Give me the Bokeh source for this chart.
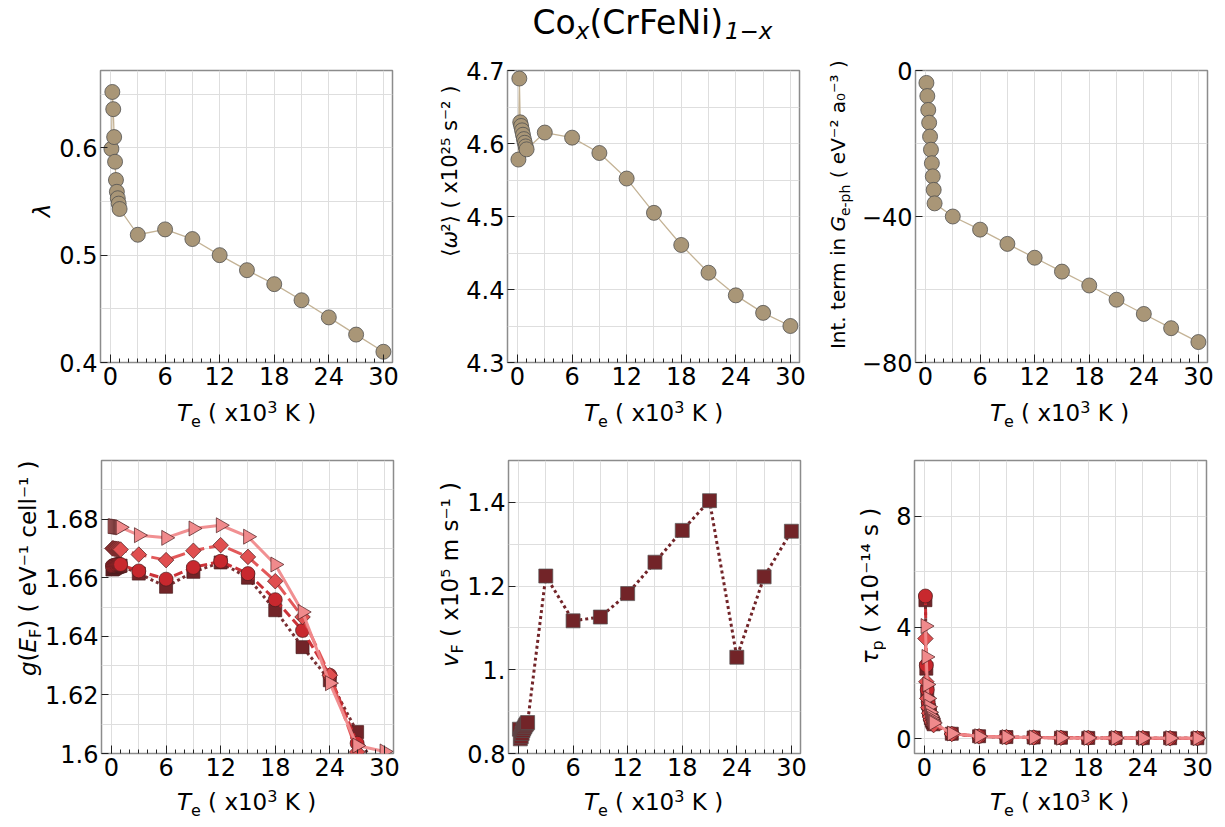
import math
from bokeh.plotting import figure
from bokeh.layouts import column, row
from bokeh.models import Range1d, FixedTicker, Label
from bokeh.embed import file_html
from bokeh.resources import INLINE

# ---------------- data ----------------
T = [0.1, 0.2, 0.3, 0.4, 0.5, 0.6, 0.7, 0.8, 0.9, 1.0,
     3, 6, 9, 12, 15, 18, 21, 24, 27, 30]

lam = [0.599, 0.652, 0.636, 0.610, 0.587, 0.570, 0.559, 0.553, 0.548, 0.543,
       0.519, 0.524, 0.515, 0.500, 0.486, 0.473, 0.458, 0.442, 0.426, 0.410]

omega2 = [4.578, 4.689, 4.629, 4.624, 4.618, 4.612, 4.606, 4.601, 4.596, 4.592,
          4.615, 4.608, 4.587, 4.552, 4.505, 4.461, 4.423, 4.392, 4.368, 4.350]

int_term = [-3.4, -7.0, -10.8, -14.3, -18.1, -21.7, -25.4, -29.0, -32.7, -36.4,
            -40.0, -43.6, -47.5, -51.3, -55.1, -58.9, -62.8, -66.7, -70.6, -74.4]

g_sq = [1.6628, 1.6630, 1.6632, 1.6634, 1.6636, 1.6637, 1.6638, 1.6639, 1.6640, 1.6641,
        1.6614, 1.6569, 1.6620, 1.6652, 1.6600, 1.6489, 1.6363, 1.6250, 1.6073, 1.5880]
g_ci = [1.6640, 1.6641, 1.6642, 1.6643, 1.6644, 1.6644, 1.6645, 1.6645, 1.6645, 1.6645,
        1.6623, 1.6595, 1.6635, 1.6656, 1.6614, 1.6525, 1.6420, 1.6267, 1.6035, 1.5850]
g_di = [1.6700, 1.6700, 1.6699, 1.6699, 1.6698, 1.6698, 1.6697, 1.6697, 1.6696, 1.6696,
        1.6679, 1.6660, 1.6692, 1.6711, 1.6671, 1.6588, 1.6466, 1.6267, 1.6005, 1.5830]
g_tr = [1.6776, 1.6776, 1.6775, 1.6775, 1.6774, 1.6774, 1.6773, 1.6773, 1.6772, 1.6772,
        1.6745, 1.6736, 1.6768, 1.6779, 1.6740, 1.6645, 1.6483, 1.6240, 1.6027, 1.6007]

vF = [0.858, 0.835, 0.840, 0.848, 0.855, 0.860, 0.864, 0.868, 0.871, 0.874,
      1.224, 1.117, 1.126, 1.182, 1.257, 1.333, 1.404, 1.030, 1.222, 1.331]

tau_sq = [4.98, 2.52, 1.70, 1.28, 1.03, 0.86, 0.74, 0.65, 0.58, 0.52,
          0.18, 0.09, 0.06, 0.045, 0.036, 0.030, 0.026, 0.023, 0.020, 0.018]
tau_ci = [5.13, 2.64, 1.76, 1.32, 1.06, 0.89, 0.76, 0.67, 0.60, 0.54,
          0.18, 0.09, 0.06, 0.045, 0.036, 0.030, 0.026, 0.023, 0.020, 0.018]
tau_di = [3.60, 2.05, 1.45, 1.12, 0.92, 0.78, 0.68, 0.60, 0.54, 0.49,
          0.17, 0.085, 0.057, 0.043, 0.034, 0.029, 0.025, 0.022, 0.019, 0.017]
tau_tr = [4.05, 2.94, 1.95, 1.45, 1.15, 0.95, 0.81, 0.71, 0.63, 0.57,
          0.19, 0.09, 0.06, 0.046, 0.037, 0.031, 0.027, 0.023, 0.021, 0.019]

x_major = [0, 6, 12, 18, 24, 30]

# ---------------- style ----------------
FONT = "DejaVu Sans"
TICK_FS = "24px"
LAB = 23
SUB = 16
MID = 0.35   # middle of text box above baseline, in em

TAN_FILL = "#a99677"
TAN_LINE = "#c4b396"
EDGE = "#505050"
C_SQ = "#722428"
C_CI = "#c8282e"
C_DI = "#e04f50"
C_TR = "#f08a8c"

W = {' ': 651, '(': 799, ')': 799, '.': 651, 'x': 1212, 'K': 1343, 's': 1067,
     'm': 1995, 'e': 1260, 'V': 1401, 'c': 1126, 'l': 569, 'a': 1255, 'i': 569,
     'n': 1298, 't': 803, 'r': 842, 'I': 604, 'G': 1577, 'E': 1294, 'F': 1177,
     'g': 1300, '\u2212': 1716, '-': 739, 'p': 1300, 'h': 1298, 'T': 1251,
     'C': 1430, 'o': 1253, 'N': 1532, '\u03bb': 1212, '\u03c9': 1636,
     '\u03c4': 1221, 'v': 1212, '\u27e8': 799, '\u27e9': 799}
for d in "0123456789":
    W[d] = 1303


def tw(s, size):
    return sum(W.get(c, 1250) for c in s) / 2048.0 * size


def rich(p, pieces, bx, by):
    """Horizontal line of text from pieces (text, px size, italic, baseline shift, advances).
    bx = centre of the line, by = baseline (screen units of the text figure)."""
    total = sum(tw(t, s) for t, s, it, dy, adv in pieces if adv)
    pos = -total / 2.0
    for t, size, it, dy, adv in pieces:
        stripped = t.lstrip(" ")
        lead = tw(t[:len(t) - len(stripped)], size)
        p.add_layout(Label(x=bx + pos + lead, y=by + dy + MID * size,
                           x_units="screen", y_units="screen",
                           text=stripped.rstrip(" "), text_font=FONT,
                           text_font_size="%dpx" % size,
                           text_font_style="italic" if it else "normal",
                           text_color="black", text_align="left",
                           text_baseline="middle"))
        if adv:
            pos += tw(t, size)


def rl(p, text, bx, y, size, italic=False, align="left", dy=0):
    """One rotated (bottom-to-top) text piece; bx = baseline x, y = position along the line."""
    p.add_layout(Label(x=bx - (dy + MID * size), y=y, x_units="screen", y_units="screen",
                       text=text, text_font=FONT, text_font_size="%dpx" % size,
                       text_font_style="italic" if italic else "normal",
                       text_color="black", angle=math.pi / 2,
                       text_align=align, text_baseline="middle"))


def text_fig(w, h):
    f = figure(width=w, height=h, min_border=0, x_axis_type=None, y_axis_type=None,
               x_range=Range1d(0, w), y_range=Range1d(0, h),
               output_backend="svg", toolbar_location=None,
               outline_line_color=None, background_fill_color="white",
               border_fill_color="white")
    f.grid.visible = False
    return f


def make_fig(yr, yticks, ygrid, left, right, top, bottom, fh, overrides=None):
    p = figure(frame_width=292, frame_height=fh,
               min_border_left=left, min_border_right=right,
               min_border_top=top, min_border_bottom=bottom,
               x_range=Range1d(-1.1, 31), y_range=Range1d(*yr),
               output_backend="svg", toolbar_location=None,
               background_fill_color="white", border_fill_color="white",
               outline_line_color="#8c8c8c", outline_line_width=1.5)
    p.xaxis.ticker = FixedTicker(ticks=x_major, minor_ticks=list(range(0, 31)))
    p.yaxis.ticker = FixedTicker(ticks=yticks)
    for ax in (p.xaxis, p.yaxis):
        ax.axis_line_color = None
        ax.major_label_text_font = FONT
        ax.major_label_text_font_size = TICK_FS
        ax.major_label_text_color = "black"
        ax.major_tick_line_color = "#222222"
        ax.minor_tick_line_color = "#222222"
        ax.major_tick_out = 0
        ax.minor_tick_out = 0
    p.xaxis.major_tick_in = 8
    p.xaxis.minor_tick_in = 4
    p.xaxis.major_label_standoff = 4
    p.yaxis.major_tick_in = 7
    p.yaxis.minor_tick_line_color = None
    p.yaxis.major_label_standoff = 3
    if overrides:
        p.yaxis.major_label_overrides = overrides
    p.xgrid.ticker = FixedTicker(ticks=list(range(0, 31, 3)))
    p.ygrid.ticker = FixedTicker(ticks=ygrid)
    p.xgrid.grid_line_color = "#dedede"
    p.ygrid.grid_line_color = "#dedede"
    return p


def tan_series(p, y):
    p.line(T, y, line_color=TAN_LINE, line_width=1.3)
    p.scatter(T, y, marker="circle", size=15, fill_color=TAN_FILL,
              line_color=EDGE, line_width=0.8)


def red_series(p, ys):
    specs = [(ys[0], C_SQ, "square", 13, 0.0, "3 3"),
             (ys[1], C_CI, "circle", 14, 0.0, "9 4"),
             (ys[2], C_DI, "square", 11, math.pi / 4, "15 5"),
             (ys[3], C_TR, "triangle", 15, -math.pi / 2, "solid")]
    for y, col, mk, sz, ang, dash in specs:
        p.line(T, y, line_color=col, line_width=3, line_dash=dash, line_alpha=0.95)
        p.scatter(T, y, marker=mk, size=sz, angle=ang, fill_color=col,
                  line_color="#4a1c1e", line_width=0.7)


XLAB = [("T", LAB, True, 0, True), ("e", SUB, False, -5, True),
        (" ( x10", LAB, False, 0, True), ("3", SUB, False, 9, True),
        (" K )", LAB, False, 0, True)]

# ---------------- top block (page y 0 .. 394) ----------------
PANEL_H = 22 + 292 + 32
COL_H = 48 + PANEL_H

p1 = make_fig((0.4, 0.672), [0.4, 0.5, 0.6], [0.4, 0.45, 0.5, 0.55, 0.6, 0.65],
              44, 13, 22, 32, 292)
tan_series(p1, lam)
yl1 = text_fig(56, COL_H)
rl(yl1, "\u03bb", 50, 184, LAB, italic=True, align="center")

p2 = make_fig((4.3, 4.7), [4.3, 4.4, 4.5, 4.6, 4.7],
              [4.3, 4.35, 4.4, 4.45, 4.5, 4.55, 4.6, 4.65, 4.7],
              44, 11, 22, 32, 292)
tan_series(p2, omega2)
yl2 = text_fig(58, COL_H)
P = 146
rl(yl2, "\u27e8", 52, P, 21, align="right")
rl(yl2, "\u03c9", 52, P, 21, italic=True)
rl(yl2, "\u00b2\u27e9 ( x10\u00b2\u2075 s\u207b\u00b2 )", 52, P + tw("\u03c9", 21), 21)

p3 = make_fig((-80, 0), [-80, -40, 0], [-80, -60, -40, -20, 0],
              55, 18, 22, 32, 292, overrides={-80: "\u221280", -40: "\u221240", 0: "0"})
tan_series(p3, int_term)
yl3 = text_fig(48, COL_H)
P = 163
rl(yl3, "Int. term in", 34, P - tw(" ", 20), 20, align="right")
rl(yl3, "G", 34, P, 20, italic=True)
rl(yl3, "e-ph", 34, P + tw("G", 20), 14, dy=-5)
rl(yl3, "( eV\u207b\u00b2 a\u2080\u207b\u00b3 )", 34,
   P + tw("G", 20) + tw("e-ph", 14) + tw(" ", 20), 20)

# title lives above the middle panel (page x 463 .. 810)
title_f = text_fig(347, 48)
rich(title_f, [("Co", 33, False, 0, True), ("x", 23, True, -5, True),
               ("(CrFeNi)", 33, False, 0, True), ("1\u2212x", 23, True, -5, True)],
     145, 14)
pad1 = text_fig(349, 48)
pad3 = text_fig(365, 48)

top_block = row(yl1, column(pad1, p1), yl2, column(title_f, p2), yl3, column(pad3, p3))

xl_top = text_fig(1223, 46)
for cx in (246, 653, 1059):
    rich(xl_top, XLAB, cx, 19)

# ---------------- bottom row (page y 440 .. 785) ----------------
BOT_H = 20 + 293 + 32
p4 = make_fig((1.6, 1.70), [1.6, 1.62, 1.64, 1.66, 1.68],
              [1.6, 1.61, 1.62, 1.63, 1.64, 1.65, 1.66, 1.67, 1.68, 1.69, 1.7],
              58, 13, 20, 32, 293,
              overrides={1.6: "1.6", 1.62: "1.62", 1.64: "1.64", 1.66: "1.66", 1.68: "1.68"})
red_series(p4, [g_sq, g_ci, g_di, g_tr])
yl4 = text_fig(42, BOT_H)
P = 92
rl(yl4, "g", 36, P, LAB, italic=True, align="right")
rl(yl4, "(", 36, P, LAB)
rl(yl4, "E", 36, P + tw("(", LAB), LAB, italic=True)
rl(yl4, "F", 36, P + tw("(E", LAB), SUB, dy=-5)
rl(yl4, ") ( eV\u207b\u00b9 cell\u207b\u00b9 )", 36, P + tw("(E", LAB) + tw("F", SUB), LAB)

p5 = make_fig((0.8, 1.5), [0.8, 1.0, 1.2, 1.4],
              [0.8, 0.9, 1.0, 1.1, 1.2, 1.3, 1.4, 1.5],
              44, 11, 20, 32, 293,
              overrides={0.8: "0.8", 1.0: "1.", 1.2: "1.2", 1.4: "1.4"})
p5.line(T, vF, line_color=C_SQ, line_width=3, line_dash="3 3")
p5.scatter(T, vF, marker="square", size=14, fill_color=C_SQ,
           line_color="#555555", line_width=0.7)
yl5 = text_fig(58, BOT_H)
P = 100
rl(yl5, "v", 52, P, LAB, italic=True, align="right")
rl(yl5, "F", 52, P, SUB, dy=-5)
rl(yl5, "( x10\u2075 m s\u207b\u00b9 )", 52, P + tw("F", SUB) + tw(" ", LAB), LAB)

p6 = make_fig((-0.53, 10), [0, 4, 8], [0, 2, 4, 6, 8, 10],
              28, 18, 20, 32, 293)
red_series(p6, [tau_sq, tau_ci, tau_di, tau_tr])
yl6 = text_fig(75, BOT_H)
P = 103
rl(yl6, "\u03c4", 67, P, LAB, italic=True, align="right")
rl(yl6, "p", 67, P, SUB, dy=-5)
rl(yl6, "( x10\u207b\u00b9\u2074 s )", 67, P + tw("p", SUB) + tw(" ", LAB), LAB)

xl_bot = text_fig(1223, 40)
for cx in (246, 653, 1059):
    rich(xl_bot, XLAB, cx, 15)

layout = column(top_block,
                xl_top,
                row(yl4, p4, yl5, p5, yl6, p6),
                xl_bot)
open("out.html", "w").write(file_html(layout, INLINE))
